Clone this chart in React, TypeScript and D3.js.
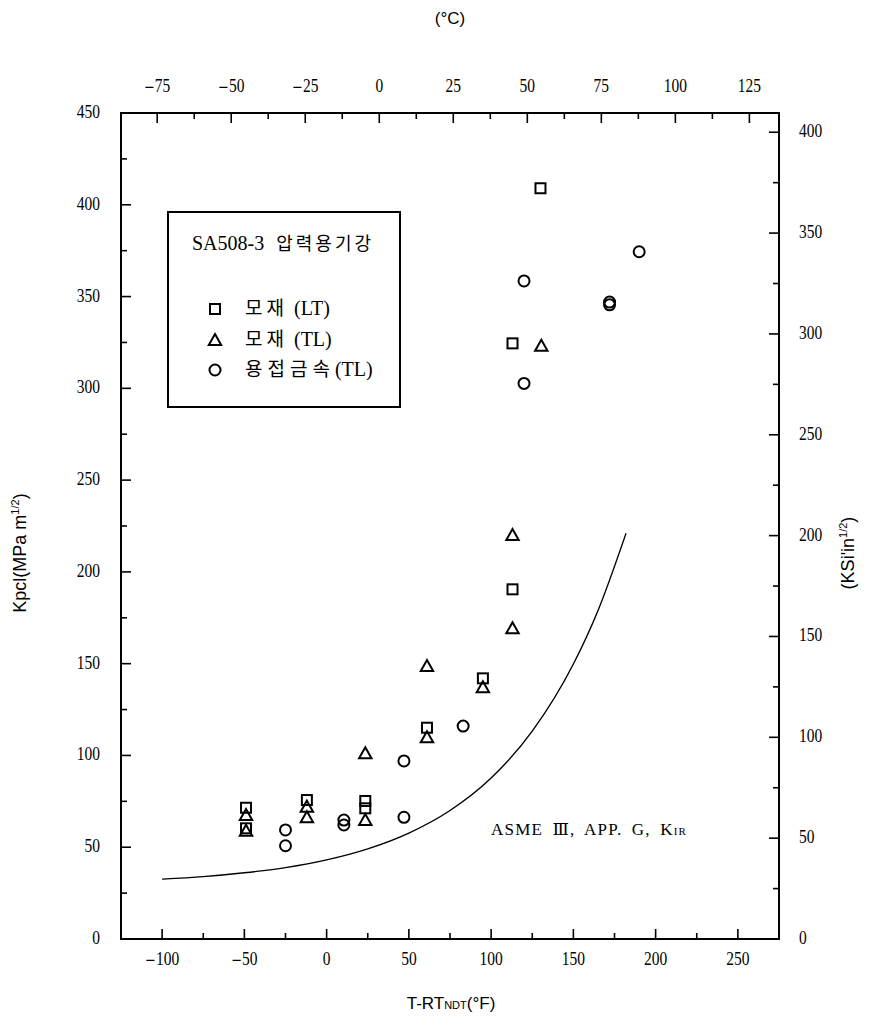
import React from "react";
import * as d3 from "d3";

// Temperature axis ticks (°F bottom, °C top)
const fTicksMajor = [-100, -50, 0, 50, 100, 150, 200, 250];
const fTicksMinor = [-75, -25, 25, 75, 125, 175, 225];
const cTicksMajor = [-75, -50, -25, 0, 25, 50, 75, 100, 125];
const cTicksMinor = [-62.5, -37.5, -12.5, 12.5, 37.5, 62.5, 87.5, 112.5];

// Toughness axis ticks (MPa·m^1/2 left, ksi·in^1/2 right)
const mpaTicksMajor = [0, 50, 100, 150, 200, 250, 300, 350, 400, 450];
const mpaTicksMinor = [25, 75, 125, 175, 225, 275, 325, 375, 425];
const ksiTicksMajor = [0, 50, 100, 150, 200, 250, 300, 350, 400];
const ksiTicksMinor = [25, 75, 125, 175, 225, 275, 325, 375];

// Measured K values: [T - RT_NDT (°F), K (MPa·m^1/2)]
const baseLT: [number, number][] = [
  [-49, 71.5], [-49, 60.3], [-12, 75.7], [23.5, 75.2], [23.5, 71.2],
  [61, 115.1], [95, 142], [113, 190.5], [113, 324.5], [130, 409],
];
const baseTL: [number, number][] = [
  [-49, 67.5], [-49, 59], [-12, 72.1], [-12, 66.3], [23.5, 101.2],
  [23.5, 64.8], [61, 148.7], [61, 109.9], [95, 137.1], [113, 220.1],
  [113, 169.3], [130.5, 323.2],
];
const weldTL: [number, number][] = [
  [-25, 59.4], [-25, 50.8], [10.5, 64.8], [10.5, 62.1], [47, 97],
  [47, 66.3], [83, 116], [120, 358.5], [120, 302.7], [172, 347],
  [172, 345.5], [190, 374.4],
];

// ASME III App. G reference toughness curve K_IR
const kirCurve: [number, number][] = [
  [-100, 32.6], [-75, 34.0], [-50, 36.1], [-25, 38.9], [0, 43.1],
  [25, 49.1], [50, 57.7], [75, 70.0], [100, 87.7], [125, 113.2],
  [150, 149.8], [165, 179.0], [182, 221.0],
];

const KSI_TO_MPA = 1.0988;

const W = 886;
const H = 1024;
const L = 121, R = 779, T = 113, B = 939;

const x = d3.scaleLinear().domain([-125, 275]).range([L, R]);
const y = d3.scaleLinear().domain([0, 450]).range([B, T]);
const xC = (c: number) => x(c * 1.8 + 32);
const yK = (k: number) => y(k * KSI_TO_MPA);

const serif = "'Liberation Serif', 'DejaVu Serif', serif";
const sans = "'Liberation Sans Narrow', 'Liberation Sans', Arial, sans-serif";
const hangul = "'Noto Sans CJK KR', sans-serif";

// tick value with a long minus sign
function fmt(v: number) {
  if (v >= 0) return <>{String(v)}</>;
  return (
    <>
      <tspan fontFamily="'DejaVu Serif', serif" fontSize={15}>{"\u2212"}</tspan>
      {String(Math.abs(v))}
    </>
  );
}

// condensed serif tick label
function Tick({ px, py, anchor, children }: { px: number; py: number; anchor: string; children: React.ReactNode }) {
  return (
    <text
      transform={`translate(${px},${py}) scale(0.86,1)`}
      textAnchor={anchor}
      fontFamily={serif}
      fontSize={18}
    >
      {children}
    </text>
  );
}

function Square({ cx, cy }: { cx: number; cy: number }) {
  return <rect x={cx - 5} y={cy - 5} width={10} height={10} fill="none" stroke="#000" strokeWidth={2} />;
}
function Triangle({ cx, cy }: { cx: number; cy: number }) {
  const p = `${cx},${cy - 6} ${cx + 6.2},${cy + 5} ${cx - 6.2},${cy + 5}`;
  return <polygon points={p} fill="none" stroke="#000" strokeWidth={2} strokeLinejoin="miter" />;
}
function Circle({ cx, cy }: { cx: number; cy: number }) {
  return <circle cx={cx} cy={cy} r={5.5} fill="none" stroke="#000" strokeWidth={2} />;
}

export default function App() {
  const line = d3
    .line<[number, number]>()
    .x((d) => x(d[0]))
    .y((d) => y(d[1]))
    .curve(d3.curveMonotoneX);

  const major = 10;
  const minor = 6;

  return (
    <svg
      width={W}
      height={H}
      style={{ position: "absolute", left: 0, top: 0, background: "#fff" }}
    >
      <rect x={0} y={0} width={W} height={H} fill="#fff" />

      {/* frame */}
      <rect x={L} y={T} width={R - L} height={B - T} fill="none" stroke="#000" strokeWidth={2} />

      {/* bottom °F ticks */}
      {fTicksMajor.map((v) => (
        <line key={"fb" + v} x1={x(v)} x2={x(v)} y1={B} y2={B - major} stroke="#000" strokeWidth={1.6} />
      ))}
      {fTicksMinor.map((v) => (
        <line key={"fm" + v} x1={x(v)} x2={x(v)} y1={B} y2={B - minor} stroke="#000" strokeWidth={1.6} />
      ))}
      {fTicksMajor.map((v) => (
        <Tick key={"fl" + v} px={x(v)} py={965} anchor="middle">{fmt(v)}</Tick>
      ))}

      {/* top °C ticks */}
      {cTicksMajor.map((v) => (
        <line key={"cb" + v} x1={xC(v)} x2={xC(v)} y1={T} y2={T + major} stroke="#000" strokeWidth={1.6} />
      ))}
      {cTicksMinor.map((v) => (
        <line key={"cm" + v} x1={xC(v)} x2={xC(v)} y1={T} y2={T + minor} stroke="#000" strokeWidth={1.6} />
      ))}
      {cTicksMajor.map((v) => (
        <Tick key={"cl" + v} px={xC(v)} py={92} anchor="middle">{fmt(v)}</Tick>
      ))}

      {/* left MPa ticks */}
      {mpaTicksMajor.map((v) => (
        <line key={"ml" + v} x1={L} x2={L + major} y1={y(v)} y2={y(v)} stroke="#000" strokeWidth={1.6} />
      ))}
      {mpaTicksMinor.map((v) => (
        <line key={"mm" + v} x1={L} x2={L + minor} y1={y(v)} y2={y(v)} stroke="#000" strokeWidth={1.6} />
      ))}
      {mpaTicksMajor.map((v) => (
        <Tick key={"mt" + v} px={100} py={y(v) + 5} anchor="end">{v}</Tick>
      ))}

      {/* right ksi ticks */}
      {ksiTicksMajor.map((v) => (
        <line key={"kl" + v} x1={R} x2={R - major} y1={yK(v)} y2={yK(v)} stroke="#000" strokeWidth={1.6} />
      ))}
      {ksiTicksMinor.map((v) => (
        <line key={"km" + v} x1={R} x2={R - minor} y1={yK(v)} y2={yK(v)} stroke="#000" strokeWidth={1.6} />
      ))}
      {ksiTicksMajor.map((v) => (
        <Tick key={"kt" + v} px={799} py={yK(v) + 5} anchor="start">{v}</Tick>
      ))}

      {/* axis titles */}
      <text x={450} y={24} textAnchor="middle" fontFamily={sans} fontSize={17}>
        (°C)
      </text>
      <text x={451} y={1009} textAnchor="middle" fontFamily={sans} fontSize={17}>
        T-RT
        <tspan fontSize={11}>NDT</tspan>
        (°F)
      </text>
      <text
        transform="translate(26,553) rotate(-90)"
        textAnchor="middle"
        fontFamily={sans}
        fontSize={18}
      >
        Kpcl(MPa m<tspan fontSize={11} dy={-7}>1/2</tspan>
        <tspan dy={7}>)</tspan>
      </text>
      <text
        transform="translate(854,553) rotate(-90)"
        textAnchor="middle"
        fontFamily={sans}
        fontSize={18}
      >
        (KSi'in<tspan fontSize={11} dy={-7}>1/2</tspan>
        <tspan dy={7}>)</tspan>
      </text>

      {/* K_IR reference curve */}
      <path d={line(kirCurve) ?? ""} fill="none" stroke="#000" strokeWidth={1.4} />
      <text x={491} y={835} fontFamily={serif} fontSize={17} letterSpacing={1.2} wordSpacing={4}>
        ASME Ⅲ, APP. G, K<tspan fontSize={11}>IR</tspan>
      </text>

      {/* data */}
      {baseLT.map((d, i) => (
        <Square key={"s" + i} cx={x(d[0])} cy={y(d[1])} />
      ))}
      {baseTL.map((d, i) => (
        <Triangle key={"t" + i} cx={x(d[0])} cy={y(d[1])} />
      ))}
      {weldTL.map((d, i) => (
        <Circle key={"c" + i} cx={x(d[0])} cy={y(d[1])} />
      ))}

      {/* legend */}
      <rect x={168} y={212} width={232} height={195} fill="#fff" stroke="#000" strokeWidth={2} />
      <text x={192} y={250} fontFamily={serif} fontSize={20}>
        SA508-3
        <tspan fontFamily={hangul} fontSize={18} dx={12} letterSpacing={3}>압력용기강</tspan>
      </text>
      <Square cx={215} cy={309} />
      <Triangle cx={215} cy={340} />
      <Circle cx={215} cy={370} />
      <text x={245} y={315} fontFamily={serif} fontSize={20}>
        <tspan fontFamily={hangul} fontSize={19} letterSpacing={4}>모재</tspan>
        <tspan dx={6}>(LT)</tspan>
      </text>
      <text x={245} y={346} fontFamily={serif} fontSize={20}>
        <tspan fontFamily={hangul} fontSize={19} letterSpacing={4}>모재</tspan>
        <tspan dx={6}>(TL)</tspan>
      </text>
      <text x={245} y={376} fontFamily={serif} fontSize={20}>
        <tspan fontFamily={hangul} fontSize={19} letterSpacing={5}>용접금속</tspan>
        <tspan>(TL)</tspan>
      </text>
    </svg>
  );
}
